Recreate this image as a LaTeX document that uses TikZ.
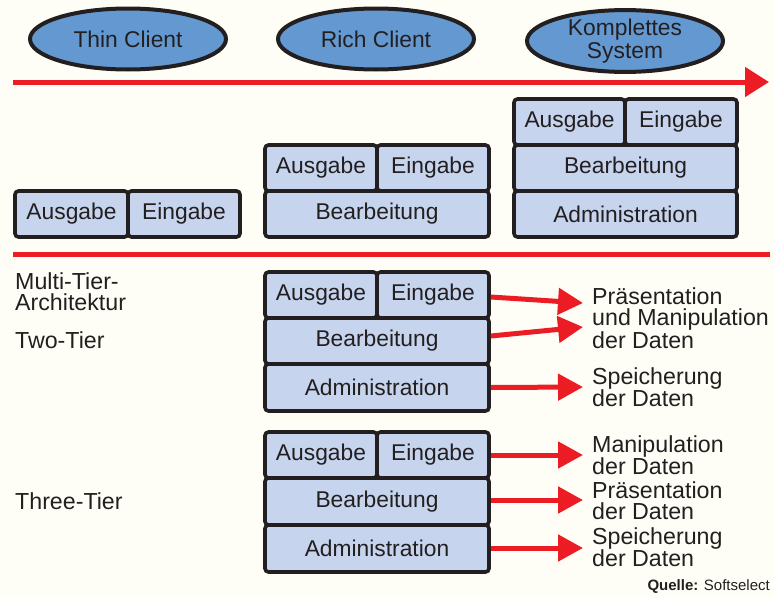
\documentclass[tikz,border=0pt]{standalone}
\usepackage{fontspec}
\setmainfont{Liberation Sans}
\usetikzlibrary{arrows.meta,shapes.geometric}
\definecolor{bg}{HTML}{FFFEF6}
\definecolor{ellfill}{HTML}{6399D0}
\definecolor{boxfill}{HTML}{C6D4EE}
\definecolor{redline}{HTML}{EC1C24}
\definecolor{ink}{HTML}{231F20}
\tikzset{
  every node/.style={text=ink, font=\fontsize{22.8}{22}\selectfont},
  client/.style={ellipse, draw=ink, line width=4pt, fill=ellfill, minimum width=196pt, minimum height=61pt, inner sep=0pt, align=center},
  layer/.style={draw=ink, line width=3.6pt, fill=boxfill, rounded corners=3.5pt, inner sep=0pt},
  flow/.style={draw=redline, line width=5pt, -{Triangle[length=25pt,width=26pt]}},
  note/.style={anchor=north west, align=left, inner sep=0pt, font=\fontsize{23.2}{21.5}\selectfont},
}
% a layer box given by its left, top, right, bottom edges
\newcommand{\layerbox}[6]{%
  \node[layer, minimum width={#4-#2}, minimum height={#5-#3}] (#1) at ({(#2+#4)/2},{(#3+#5)/2}) {#6};}
\begin{document}
\begin{tikzpicture}[x=1pt,y=-1pt]
  \fill[bg] (0,0) rectangle (774,597);
  \useasboundingbox (0,0) rectangle (774,597);

  % client types
  \node[client] (thin) at (128,39) {Thin Client};
  \node[client] (rich) at (376,39) {Rich Client};
  \node[client, font=\fontsize{22.8}{22.5}\selectfont] (full) at (625,41) {Komplettes\\System};

  % timeline arrow and separator
  \coordinate (tl0) at (13,82);
  \coordinate (tl1) at (769,82);
  \draw[draw=redline, line width=5pt, -{Triangle[length=24pt,width=29pt]}] (tl0) -- (tl1);
  \coordinate (sep0) at (13,254);
  \coordinate (sep1) at (770,254);
  \draw[draw=redline, line width=5pt] (sep0) -- (sep1);

  % thin client layers
  \layerbox{tA}{15}{191}{128}{237}{Ausgabe}
  \layerbox{tE}{128}{191}{240}{237}{Eingabe}

  % rich client layers
  \layerbox{rA}{265}{145}{377}{191}{Ausgabe}
  \layerbox{rE}{377}{145}{489}{191}{Eingabe}
  \layerbox{rB}{265}{191}{489}{237}{Bearbeitung}

  % complete system layers
  \layerbox{kA}{514}{99}{625}{145}{Ausgabe}
  \layerbox{kE}{625}{99}{737}{145}{Eingabe}
  \layerbox{kB}{514}{145}{737}{191}{Bearbeitung}
  \layerbox{kD}{514}{191}{737}{237}{Administration}

  % tier labels
  \node[note] (multi) at (15,272) {Multi-Tier-\\Architektur};
  \node[note] (two) at (15,331) {Two-Tier};
  \node[note] (three) at (15,492) {Three-Tier};

  % two-tier stack
  \layerbox{wA}{265}{272}{377}{318}{Ausgabe}
  \layerbox{wE}{377}{272}{489}{318}{Eingabe}
  \layerbox{wB}{265}{318}{489}{364}{Bearbeitung}
  \layerbox{wD}{265}{364}{489}{411}{Administration}

  % three-tier stack
  \layerbox{hA}{265}{432}{377}{478}{Ausgabe}
  \layerbox{hE}{377}{432}{489}{478}{Eingabe}
  \layerbox{hB}{265}{478}{489}{525}{Bearbeitung}
  \layerbox{hD}{265}{525}{489}{572}{Administration}

  % two-tier roles
  \node[note] (wP) at (592,287) {Präsentation\\und Manipulation\\der Daten};
  \node[note] (wS) at (592,367) {Speicherung\\der Daten};
  \coordinate (wP1) at (583,303);
  \coordinate (wP2) at (583,327);
  \coordinate (wS1) at (583,387);
  \draw[flow] ([yshift=-2pt]wE.east) -- (wP1);
  \draw[flow] ([yshift=5pt]wB.east) -- (wP2);
  \draw[flow] (wD.east) -- (wS1);

  % three-tier roles
  \node[note] (hM) at (592,435) {Manipulation\\der Daten};
  \node[note] (hP) at (592,481) {Präsentation\\der Daten};
  \node[note] (hS) at (592,527) {Speicherung\\der Daten};
  \coordinate (hM1) at (583,455);
  \coordinate (hP1) at (583,500);
  \coordinate (hS1) at (583,548);
  \draw[flow] (hE.east |- hM1) -- (hM1);
  \draw[flow] (hB.east |- hP1) -- (hP1);
  \draw[flow] (hD.east |- hS1) -- (hS1);

  % source
  \node[anchor=south east, inner sep=0pt, font=\fontsize{15}{15}\selectfont] (src) at (770,594) {\textbf{Quelle:} Softselect};
\end{tikzpicture}
\end{document}
